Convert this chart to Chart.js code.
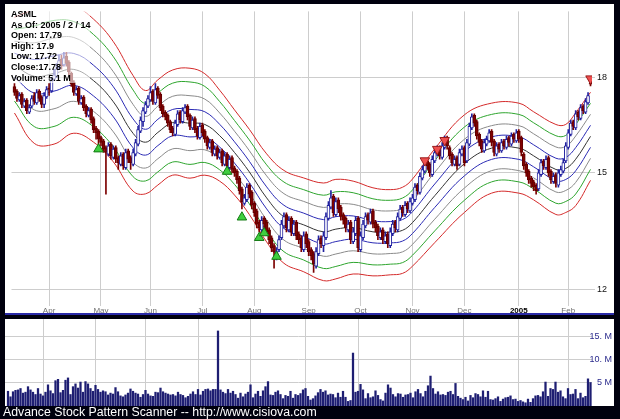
<!DOCTYPE html>
<html>
<head>
<meta charset="utf-8">
<script src="https://cdn.jsdelivr.net/npm/chart.js@4.4.1/dist/chart.umd.min.js"></script>
<style>
  html, body { margin: 0; padding: 0; width: 620px; height: 419px; overflow: hidden; background: #00000e; font-family: "Liberation Sans", Arial, sans-serif; }
  #top { position: absolute; left: 5px; top: 4px; width: 609px; height: 309px; background: #fff; }
  #sep { position: absolute; left: 5px; top: 313px; width: 609px; height: 2px; background: #2a2aa8; }
  #bot { position: absolute; left: 5px; top: 319px; width: 609px; height: 87px; background: #fff; }
  #foot { position: absolute; left: 3px; top: 405px; color: #fff; font-size: 12.3px; line-height: 14px; white-space: nowrap; }
  canvas { position: absolute; left: 0; top: 0; }
</style>
</head>
<body>
<div id="top"><canvas id="price" width="609" height="309"></canvas></div>
<div id="sep"></div>
<div id="bot"><canvas id="volume" width="607" height="87"></canvas></div>
<div id="foot">Advance Stock Pattern Scanner -- http://www.cisiova.com</div>
<script>
// trading-day index 0 = 2004-03-12, 233 = 2005-02-14
const monthIdx = [14, 35, 55, 76, 97, 119, 140, 161, 182, 204, 224];
const monthLabels = ['Apr', 'May', 'Jun', 'Jul', 'Aug', 'Sep', 'Oct', 'Nov', 'Dec', '2005', 'Feb'];
const priceTicks = [12, 15, 18];
const volumeTicks = [5, 10, 15];
const volumeTickLabels = ['5 M', '10. M', '15. M'];

const opens = [
  17.70,17.55,17.25,17.45,17.05,17.25,16.85,17.05,17.40,17.15,17.55,17.35,17.10,17.35,
  17.65,17.55,17.95,18.05,18.35,18.65,18.45,18.75,18.55,
  18.15,17.85,17.45,17.65,17.15,17.35,17.05,16.75,16.95,16.65,16.35,16.25,
  16.05,15.95,15.75,15.55,15.85,15.45,15.75,15.45,15.25,15.55,15.15,15.65,15.45,15.25,15.55,15.85,
  16.25,16.55,16.85,17.05,17.25,17.55,17.15,17.65,17.45,17.05,
  16.85,16.75,16.55,16.35,16.15,16.45,16.85,16.55,16.85,17.05,16.75,16.35,16.65,16.35,16.05,16.45,
  16.25,16.05,15.75,15.95,15.55,15.75,15.45,15.65,15.25,15.55,15.15,15.45,15.15,15.05,
  14.85,14.55,14.15,14.25,14.65,14.45,14.15,13.95,13.65,13.45,13.75,13.65,13.45,13.25,13.05,12.85,
  12.95,13.25,13.55,13.85,13.45,13.75,13.35,13.65,13.35,13.25,12.95,13.35,13.15,
  12.95,12.85,12.55,12.85,13.25,13.05,13.25,13.75,14.05,14.35,13.85,
  14.25,14.05,13.85,13.75,13.45,13.65,13.15,13.35,13.75,12.95,
  13.25,13.55,13.85,13.65,13.95,13.65,13.55,13.25,13.45,13.15,13.35,13.05,13.35,13.65,13.45,13.75,14.05,13.85,14.15,13.95,
  14.15,14.25,14.65,14.45,14.85,15.05,15.35,15.25,14.95,15.35,15.55,15.75,15.45,15.75,16.05,
  15.75,15.55,15.25,15.45,15.25,15.55,15.75,15.35,15.85,16.35,16.75,16.55,16.15,15.95,15.65,
  15.85,15.95,16.25,15.95,15.55,15.85,15.65,15.95,15.75,16.05,15.85,16.15,15.95,16.25,16.05,
  15.55,15.25,15.05,14.85,14.75,14.65,14.55,14.95,15.35,15.15,15.45,15.05,14.75,14.95,14.65,14.95,15.05,
  15.35,15.75,16.15,16.55,16.35,16.85,16.65,17.05,16.85,17.15,17.79
];
const highs = [
  17.80,17.60,17.50,17.50,17.30,17.30,17.10,17.40,17.50,17.60,17.60,17.40,17.50,17.70,
  17.80,18.00,18.30,18.50,18.80,18.80,18.90,18.90,18.60,
  18.20,17.90,17.70,17.70,17.40,17.40,17.10,17.00,17.00,16.70,16.40,16.30,
  16.10,16.00,15.80,15.90,15.90,15.80,15.80,15.50,15.60,15.60,15.70,15.70,15.50,15.70,16.00,16.40,
  16.70,17.00,17.20,17.40,17.70,17.60,17.80,17.70,17.50,17.10,
  16.90,16.80,16.60,16.40,16.60,16.90,16.90,17.00,17.10,17.10,16.80,16.70,16.70,16.40,16.50,16.50,
  16.30,16.10,16.00,16.00,15.80,15.80,15.70,15.70,15.60,15.60,15.50,15.50,15.20,15.10,
  14.90,14.60,14.40,14.70,14.70,14.50,14.20,14.00,13.70,13.80,13.80,13.70,13.50,13.30,13.10,13.00,
  13.30,13.70,13.90,13.90,13.80,13.80,13.70,13.70,13.40,13.30,13.40,13.40,13.20,
  13.00,12.90,13.00,13.30,13.30,13.40,13.90,14.20,14.50,14.40,14.30,
  14.30,14.10,13.90,13.80,13.70,13.70,13.50,13.80,13.80,13.40,
  13.70,13.90,13.90,14.00,14.00,13.70,13.60,13.50,13.50,13.40,13.40,13.50,13.70,13.70,13.90,14.10,14.10,14.20,14.20,14.30,
  14.40,14.70,14.70,15.00,15.20,15.40,15.40,15.30,15.50,15.70,15.80,15.80,15.90,16.10,16.10,
  15.80,15.60,15.50,15.50,15.70,15.80,15.80,16.00,16.50,16.80,16.80,16.60,16.20,16.00,16.00,
  16.10,16.30,16.30,16.00,15.90,15.90,16.00,16.00,16.10,16.10,16.20,16.20,16.30,16.30,16.10,
  15.60,15.30,15.10,14.90,14.80,14.70,15.10,15.40,15.40,15.50,15.50,15.10,15.00,15.00,15.10,15.20,15.40,
  15.90,16.30,16.60,16.60,16.90,16.90,17.10,17.10,17.30,17.50,17.90
];
const lows = [
  17.40,17.20,17.20,17.00,17.00,16.80,16.80,17.00,17.10,17.10,17.20,17.00,17.00,17.30,
  17.40,17.50,17.90,18.00,18.30,18.30,18.40,18.40,18.10,
  17.70,17.40,17.40,17.10,17.10,16.90,16.70,16.70,16.50,16.20,16.00,15.80,
  15.80,15.60,14.40,15.50,15.40,15.40,15.30,15.10,15.20,15.10,15.10,15.30,15.10,15.20,15.50,15.80,
  16.20,16.40,16.80,17.00,17.20,17.10,17.10,17.30,16.90,16.70,
  16.60,16.40,16.20,16.10,16.10,16.40,16.50,16.50,16.80,16.60,16.30,16.30,16.20,16.00,16.00,16.10,
  15.90,15.70,15.70,15.50,15.50,15.40,15.40,15.20,15.20,15.10,15.10,15.00,14.90,14.70,
  14.40,14.00,14.10,14.20,14.30,14.00,13.80,13.50,13.40,13.40,13.50,13.30,13.10,12.90,12.50,12.70,
  12.90,13.20,13.50,13.40,13.40,13.30,13.30,13.20,13.10,12.90,12.90,13.00,12.80,
  12.70,12.40,12.50,12.80,13.00,12.90,13.20,13.70,14.00,13.80,13.80,
  13.90,13.70,13.60,13.40,13.40,13.10,13.10,13.30,12.90,12.90,
  13.20,13.50,13.60,13.60,13.50,13.40,13.20,13.20,13.10,13.10,13.00,13.00,13.30,13.40,13.40,13.70,13.80,13.80,13.90,13.90,
  14.10,14.20,14.40,14.40,14.80,15.00,15.10,14.90,14.90,15.30,15.50,15.40,15.40,15.70,15.70,
  15.40,15.20,15.20,15.10,15.20,15.50,15.20,15.30,15.80,16.30,16.40,16.00,15.80,15.60,15.60,
  15.80,15.90,15.80,15.50,15.50,15.60,15.60,15.70,15.70,15.80,15.80,15.90,15.90,15.90,15.50,
  15.10,14.90,14.70,14.60,14.50,14.40,14.50,14.90,15.10,15.10,14.90,14.70,14.70,14.60,14.60,14.90,15.00,
  15.30,15.70,16.10,16.30,16.30,16.60,16.60,16.80,16.80,17.10,17.72
];
const closes = [
  17.50,17.30,17.40,17.10,17.20,16.90,17.00,17.30,17.20,17.50,17.30,17.10,17.40,17.60,
  17.60,17.90,18.10,18.30,18.60,18.40,18.70,18.50,18.20,
  17.80,17.50,17.60,17.20,17.30,17.00,16.80,16.90,16.60,16.30,16.20,16.00,
  15.90,15.70,15.60,15.80,15.50,15.70,15.40,15.30,15.50,15.20,15.60,15.40,15.30,15.60,15.90,16.30,
  16.60,16.90,17.10,17.30,17.50,17.20,17.60,17.40,17.00,16.80,
  16.70,16.50,16.30,16.20,16.50,16.80,16.60,16.90,17.00,16.70,16.40,16.60,16.30,16.10,16.40,16.20,
  16.00,15.80,15.90,15.60,15.70,15.50,15.60,15.30,15.50,15.20,15.40,15.10,15.00,14.80,
  14.50,14.20,14.30,14.60,14.40,14.10,13.90,13.60,13.50,13.70,13.60,13.40,13.20,13.00,12.90,12.90,
  13.20,13.60,13.80,13.50,13.70,13.40,13.60,13.30,13.20,13.00,13.30,13.10,12.90,
  12.80,12.60,12.90,13.20,13.10,13.30,13.80,14.10,14.30,13.90,14.20,
  14.00,13.80,13.70,13.50,13.60,13.20,13.40,13.70,13.00,13.30,
  13.60,13.80,13.70,13.90,13.60,13.50,13.30,13.40,13.20,13.30,13.10,13.40,13.60,13.50,13.80,14.00,13.90,14.10,14.00,14.20,
  14.30,14.60,14.50,14.90,15.10,15.30,15.20,15.00,15.40,15.60,15.70,15.50,15.80,16.00,15.80,
  15.50,15.30,15.40,15.20,15.60,15.70,15.30,15.90,16.40,16.70,16.50,16.10,15.90,15.70,15.90,
  16.00,16.20,15.90,15.60,15.80,15.70,15.90,15.80,16.00,15.90,16.10,16.00,16.20,16.00,15.60,
  15.20,15.00,14.80,14.70,14.60,14.50,15.00,15.30,15.20,15.40,15.00,14.80,14.90,14.70,15.00,15.10,15.30,
  15.80,16.20,16.50,16.40,16.80,16.70,17.00,16.90,17.20,17.40,17.78
];
// volume in millions
const volumes = [
  3.2,2.0,3.1,3.4,3.5,3.8,2.8,3.0,4.2,3.5,3.0,2.5,3.8,2.6,
  2.2,3.0,4.6,3.3,2.7,5.5,5.8,2.9,3.4,
  5.6,6.1,2.5,4.2,4.8,3.9,5.2,3.0,5.3,4.8,3.8,3.2,
  4.5,3.6,3.0,3.3,3.1,2.4,2.8,2.6,4.0,3.1,2.2,2.0,2.4,2.8,3.7,3.2,
  2.8,2.6,1.9,2.5,3.4,2.6,2.2,2.1,3.0,2.9,
  3.9,3.1,2.8,2.6,2.4,2.5,2.2,3.0,2.5,2.3,1.8,2.1,2.6,3.1,2.5,3.6,
  2.4,3.2,3.6,3.7,3.3,3.6,3.6,16.3,3.5,3.0,2.7,3.6,2.8,3.2,
  2.5,1.7,2.8,2.0,2.6,3.0,4.6,1.8,2.6,3.2,2.1,3.3,4.2,5.3,2.4,2.3,
  3.0,3.3,2.5,1.6,2.3,2.1,3.2,1.7,2.5,2.3,2.7,3.5,3.8,
  2.1,1.3,1.6,2.2,2.9,3.6,3.0,3.3,2.4,2.6,2.5,
  1.8,2.8,1.9,3.2,1.9,1.0,1.2,11.5,3.0,3.2,
  4.7,3.5,1.6,2.7,1.8,2.0,3.3,2.3,1.4,1.1,2.8,4.6,3.9,2.5,2.0,2.7,2.6,1.9,2.4,2.5,
  2.8,1.8,3.1,3.6,2.7,2.0,3.2,4.4,6.5,3.8,2.6,3.1,2.4,2.5,2.3,
  3.0,3.2,2.5,4.9,2.1,1.7,1.4,1.9,1.1,2.3,1.8,2.7,2.5,2.0,3.3,
  1.9,3.2,1.4,1.3,1.6,2.0,1.0,1.5,1.8,1.9,2.2,1.4,1.5,1.0,1.2,
  0.9,0.7,1.5,0.8,1.6,2.2,2.3,2.0,3.1,5.2,2.1,3.8,3.6,5.2,3.0,3.3,2.0,
  1.6,3.8,2.5,2.6,3.6,1.6,2.8,1.8,2.1,5.9,5.1
];

// envelope: centre line and outer-band distance (%), read at sample days
const centerIdx = [0,8,16,24,32,40,48,53,58,64,71,77,83,89,95,102,109,117,125,130,137,145,152,157,161,170,182,193,204,210,219,223,227,233];
const centerVal = [18.44,18.05,18.15,18.29,17.90,17.19,16.18,15.91,16.21,16.52,16.50,16.46,16.11,15.60,15.03,14.30,13.79,13.58,13.40,13.47,13.51,13.40,13.39,13.44,13.64,14.36,15.27,15.73,15.73,15.50,15.10,15.13,15.40,16.09];
const spreadPct = [9.6,13.7,14.5,13.0,12.5,12.2,11.7,10.4,10.6,10.6,11.1,10.2,9.1,8.5,8.5,8.8,9.3,9.4,9.8,10.0,9.3,8.8,8.5,8.6,8.7,9.4,9.8,9.0,9.0,8.8,9.0,8.8,9.3,8.8];
// nine bands, in quarters of the outer distance
const bandSteps = [4, 3, 2, 1, 0, -1, -2, -3, -4];
const bandColors = ['#d42a2a', '#2ea52e', '#8a8a8a', '#2a2ab4', '#333333', '#2a2ab4', '#8a8a8a', '#2ea52e', '#d42a2a'];

// signal markers
const buyIdx = [34, 86, 92, 99, 101, 106];
const buyVal = [15.70, 15.04, 13.78, 13.25, 13.37, 12.78];
const sellIdx = [166, 171, 174, 233];
const sellVal = [15.36, 15.70, 15.97, 17.97];

const infoLines = ['ASML', 'As Of: 2005 / 2 / 14', 'Open: 17.79', 'High: 17.9', 'Low: 17.72', 'Close:17.78', 'Volume: 5.1 M'];

const FONT = '"Liberation Sans", Arial, sans-serif';
const UP = '#2222a0', DOWN = '#7c0000';
const gridColor = '#cdcdcd';

const bandSets = bandSteps.map((k, b) => ({
  type: 'line',
  data: centerIdx.map((x, n) => ({ x: x, y: centerVal[n] * Math.pow(1 + spreadPct[n] / 100, k / 4) })),
  borderColor: bandColors[b],
  borderWidth: 1,
  pointRadius: 0,
  tension: 0.4,
  order: 10
}));

const isUp = closes.map((c, i) => c >= opens[i]);

const infoBox = {
  id: 'infoBox',
  afterDatasetsDraw(chart) {
    const ctx = chart.ctx;
    ctx.save();
    ctx.fillStyle = 'rgba(255,255,255,0.6)';
    ctx.fillRect(0, 0, 85, 79);
    ctx.fillStyle = '#000';
    ctx.font = 'bold 9px ' + FONT;
    infoLines.forEach((t, k) => ctx.fillText(t, 6, 13 + k * 10.6));
    ctx.restore();
  }
};

const volumeLabels = {
  id: 'volumeLabels',
  afterDraw(chart) {
    const ctx = chart.ctx, y = chart.scales.y;
    ctx.save();
    ctx.fillStyle = '#2a2a8c';
    ctx.font = '9px ' + FONT;
    ctx.textAlign = 'right';
    ctx.textBaseline = 'middle';
    volumeTicks.forEach((v, k) => ctx.fillText(volumeTickLabels[k], chart.width, y.getPixelForValue(v)));
    ctx.restore();
  }
};

new Chart(document.getElementById('price'), {
  type: 'bar',
  data: {
    datasets: bandSets.concat([
      {
        type: 'bar',
        data: closes.map((c, i) => ({ x: i, y: [lows[i], highs[i]] })),
        backgroundColor: isUp.map(u => u ? UP : DOWN),
        barThickness: 1,
        grouped: false,
        order: 5
      },
      {
        type: 'bar',
        data: closes.map((c, i) => ({ x: i, y: [opens[i], c] })),
        backgroundColor: isUp.map(u => u ? '#ffffff' : '#800000'),
        borderColor: isUp.map(u => u ? UP : '#600000'),
        borderWidth: 1,
        borderSkipped: false,
        barThickness: 3,
        minBarLength: 1,
        grouped: false,
        order: 4
      },
      {
        type: 'line',
        data: buyIdx.map((x, k) => ({ x: x, y: buyVal[k] })),
        showLine: false,
        pointStyle: 'triangle',
        pointRadius: 5.5,
        pointBackgroundColor: '#3fcf3f',
        pointBorderColor: '#137a13',
        pointBorderWidth: 1,
        order: 1
      },
      {
        type: 'line',
        data: sellIdx.map((x, k) => ({ x: x, y: sellVal[k] })),
        showLine: false,
        pointStyle: 'triangle',
        pointRotation: 180,
        pointRadius: 5.5,
        pointBackgroundColor: '#ef4f4f',
        pointBorderColor: '#9a1c1c',
        pointBorderWidth: 1,
        order: 1
      }
    ])
  },
  options: {
    responsive: false,
    animation: false,
    layout: { padding: 0 },
    plugins: { legend: { display: false }, tooltip: { enabled: false } },
    scales: {
      x: {
        type: 'linear',
        min: -1.2,
        max: 233.6,
        offset: false,
        grid: { color: gridColor, offset: false, tickLength: 2 },
        border: { display: false },
        afterBuildTicks: s => { s.ticks = monthIdx.map(v => ({ value: v })); },
        afterFit: s => { s.height = 9; },
        ticks: {
          autoSkip: false,
          maxRotation: 0,
          padding: 0,
          color: c => (c.tick && c.tick.value === 204) ? '#000' : '#707070',
          font: c => ({ family: FONT, size: 8, weight: (c.tick && c.tick.value === 204) ? 'bold' : 'normal' }),
          callback: v => monthLabels[monthIdx.indexOf(v)]
        }
      },
      y: {
        type: 'logarithmic',
        position: 'right',
        min: 11.67,
        max: 20.44,
        grid: { color: gridColor, tickLength: 3 },
        border: { display: false },
        afterBuildTicks: s => { s.ticks = priceTicks.map(v => ({ value: v })); },
        afterFit: s => { s.width = 22; },
        ticks: { padding: 2, color: '#111', font: { family: FONT, size: 9 }, callback: v => String(v) }
      }
    }
  },
  plugins: [infoBox]
});

new Chart(document.getElementById('volume'), {
  type: 'bar',
  data: {
    datasets: [{
      data: volumes.map((v, i) => ({ x: i, y: v })),
      backgroundColor: '#1e1e72',
      barThickness: 1.6,
      grouped: false
    }]
  },
  options: {
    responsive: false,
    animation: false,
    layout: { padding: 0 },
    plugins: { legend: { display: false }, tooltip: { enabled: false } },
    scales: {
      x: {
        type: 'linear',
        min: -1.2,
        max: 233.6,
        offset: false,
        grid: { color: gridColor, offset: false, drawTicks: false },
        border: { display: false },
        afterBuildTicks: s => { s.ticks = monthIdx.map(v => ({ value: v })); },
        afterFit: s => { s.height = 0; },
        ticks: { display: false }
      },
      y: {
        type: 'linear',
        position: 'right',
        min: 0,
        max: 18.9,
        grid: { color: gridColor, drawTicks: false },
        border: { display: false },
        afterBuildTicks: s => { s.ticks = volumeTicks.map(v => ({ value: v })); },
        afterFit: s => { s.width = 20; },
        ticks: { display: false }
      }
    }
  },
  plugins: [volumeLabels]
});
</script>
</body>
</html>
